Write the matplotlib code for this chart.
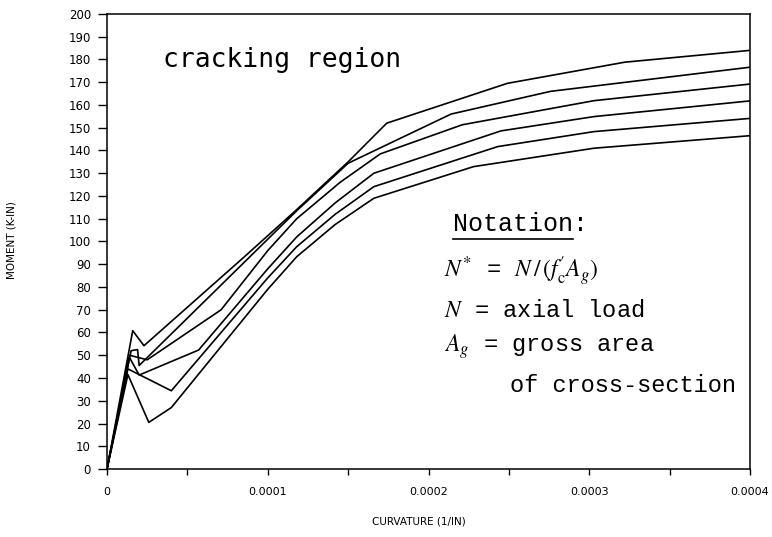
import matplotlib.pyplot as plt
from matplotlib.lines import Line2D

plt.rcParams['mathtext.fontset'] = 'stix'

# curvature in units of 1e-4 (1/in), moment in k-in
x1 = [0, 0.16, 0.23, 0.85, 1.18, 1.50, 1.74, 2.49, 3.22, 4.0]
m1 = [0, 60.8, 54.2, 93, 114, 135, 152, 169.5, 178.8, 184]

x2 = [0, 0.15, 0.19, 0.20, 1.18, 1.50, 2.14, 2.76, 4.0]
m2 = [0, 52, 52.5, 45.5, 113.5, 134.4, 156, 166, 176.6]

x3 = [0, 0.14, 0.25, 0.71, 1.00, 1.18, 1.45, 1.70, 2.21, 3.03, 4.0]
m3 = [0, 50, 48, 70, 96, 110, 126, 138.5, 151.3, 161.9, 169.2]

x4 = [0, 0.14, 0.20, 0.57, 1.00, 1.18, 1.42, 1.66, 2.45, 3.03, 4.0]
m4 = [0, 49, 41.3, 52.3, 88, 102, 117, 130, 148.6, 154.9, 161.8]

x5 = [0, 0.13, 0.40, 1.00, 1.18, 1.42, 1.66, 2.43, 3.03, 4.0]
m5 = [0, 44, 34.4, 84, 97.7, 112, 124.1, 141.7, 148.3, 154.1]

x6 = [0, 0.13, 0.26, 0.40, 1.00, 1.18, 1.42, 1.66, 2.28, 3.03, 4.0]
m6 = [0, 41.5, 20.5, 27, 79, 93.3, 107.5, 119, 132.9, 141, 146.5]

x_ticks = [0, 0.0001, 0.0002, 0.0003, 0.0004]
x_labels = ["0", "0.0001", "0.0002", "0.0003", "0.0004"]
x_minor = [0.00005, 0.00015, 0.00025, 0.00035]
y_ticks = list(range(0, 201, 10))

fig = plt.figure(figsize=(7.72, 5.37), dpi=100)
ax = fig.add_axes([0.1386, 0.1266, 0.833, 0.8474])

for xs, ms in [(x1, m1), (x2, m2), (x3, m3), (x4, m4), (x5, m5), (x6, m6)]:
    ax.plot([v * 1e-4 for v in xs], ms, color='black', lw=1.2)

ax.set_xlim(0, 0.0004)
ax.set_ylim(0, 200)
ax.set_xticks(x_ticks)
ax.set_xticklabels(x_labels)
ax.set_xticks(x_minor, minor=True)
ax.set_yticks(y_ticks)
ax.tick_params(axis='y', direction='out', length=6.5, width=1, pad=5, labelsize=8.5)
ax.tick_params(axis='x', which='both', direction='out', length=4, width=1, pad=9, labelsize=8)
for s in ax.spines.values():
    s.set_linewidth(1.1)

fig.text(12 / 772, 1 - 240 / 537, "MOMENT (K-IN)", rotation=90, ha='center', va='center',
         fontsize=7.5)
fig.text(419 / 772, 1 - 521 / 537, "CURVATURE (1/IN)", ha='center', va='center', fontsize=7.5)

# annotations
ax.text(0.087, 0.884, "cracking region", transform=ax.transAxes, family='DejaVu Sans Mono',
        fontsize=19, va='baseline')
note = ax.text(0.538, 0.522, "Notation:", transform=ax.transAxes, family='Liberation Mono',
               fontsize=18, va='baseline')
mono = dict(transform=ax.transAxes, family='Liberation Mono', fontsize=17, va='baseline')
ax.text(0.524, 0.420, r"$N^{*}$ = $N\,/\,(f_{\mathrm{c}}^{\prime}A_{g})$", **mono)
ax.text(0.524, 0.335, r"$N$ = axial load", **mono)
ax.text(0.524, 0.258, r"$A_{g}$ = gross area", **mono)
ax.text(0.626, 0.170, "of cross-section", **mono)

# underline "Notation"
fig.canvas.draw()
bb = note.get_window_extent().transformed(fig.transFigure.inverted())
x0, x1u = bb.x0, bb.x0 + bb.width * 8 / 9
yu = bb.y0 - 0.004
fig.add_artist(Line2D([x0, x1u], [yu, yu], color='black', lw=1.2))

fig.savefig("out.png", dpi=100)
